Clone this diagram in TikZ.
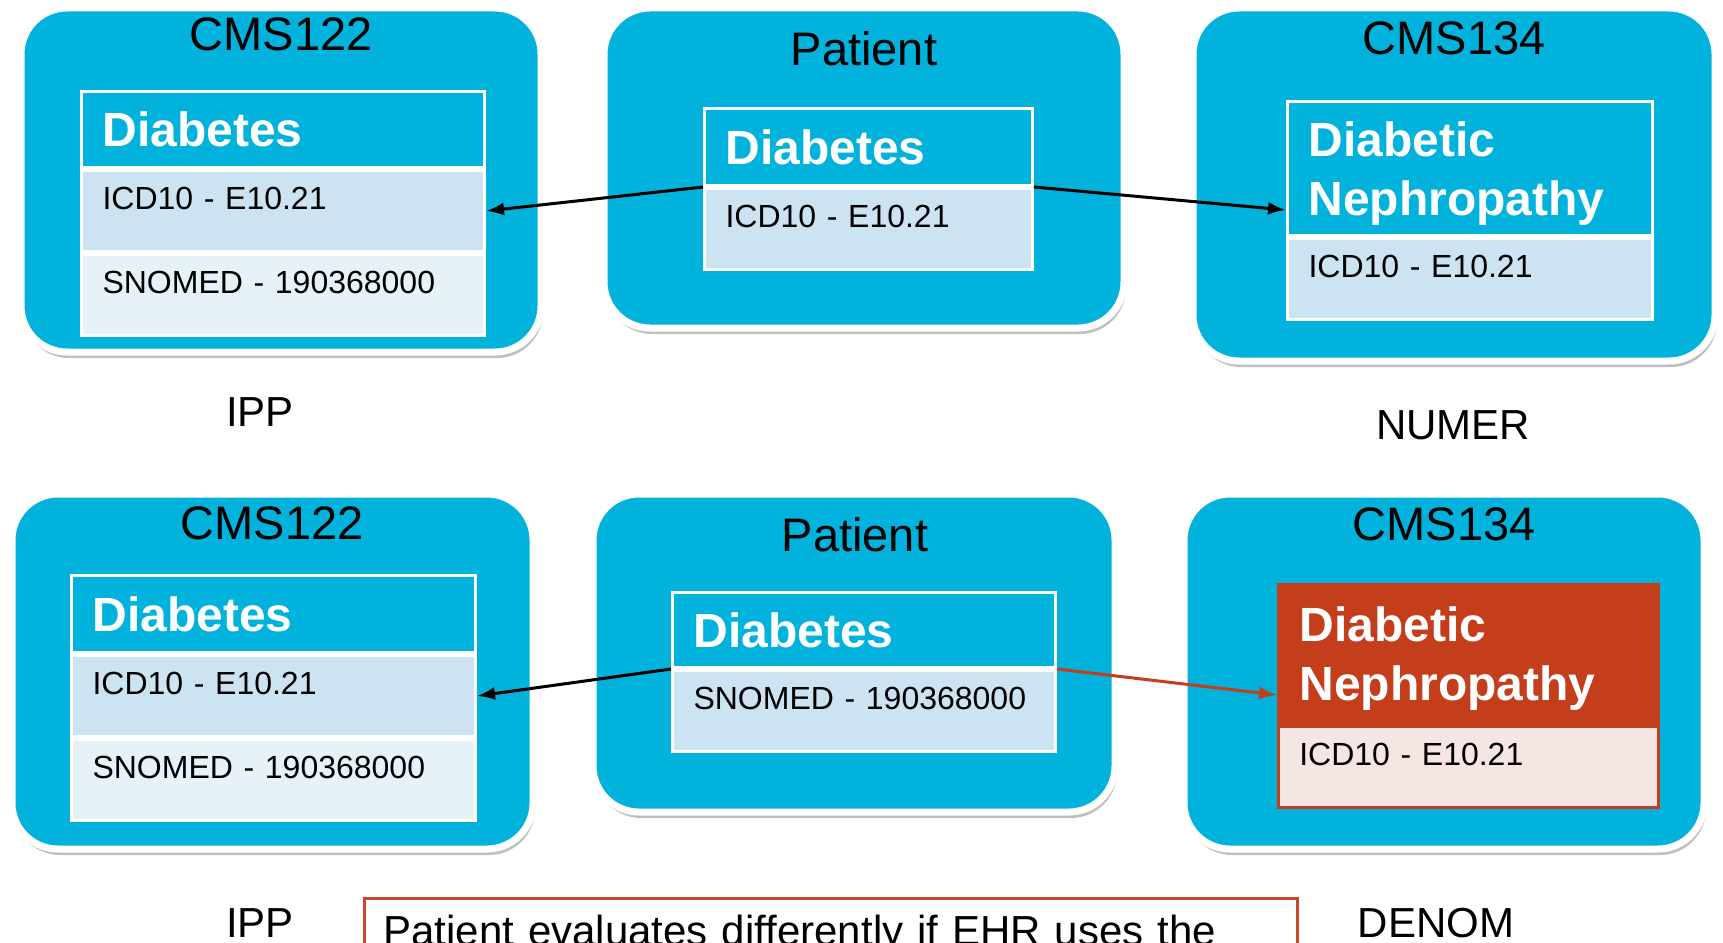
\documentclass[tikz,border=0pt]{standalone}
\usepackage{fontspec}
\setsansfont{Liberation Sans}
\usepackage{xcolor}
\usepackage{tikz}
\usetikzlibrary{arrows.meta,shadows}
\definecolor{cmsblue}{RGB}{0,178,220}
\definecolor{rowone}{RGB}{204,228,241}
\definecolor{rowtwo}{RGB}{230,242,248}
\definecolor{nephred}{RGB}{196,62,28}
\definecolor{nephrow}{RGB}{245,230,228}
\definecolor{callred}{RGB}{201,71,42}

\begin{document}
\begin{tikzpicture}[x=1pt,y=-1pt,font=\sffamily,
	panel/.style={fill=cmsblue,draw=white,line width=7pt,rounded corners=46pt,
		drop shadow={shadow xshift=2pt,shadow yshift=-6pt,opacity=0.25,fill=black}},
	ptitle/.style={inner sep=0pt,font=\sffamily\fontsize{47}{47}\selectfont},
	outlabel/.style={inner sep=0pt,font=\sffamily\fontsize{42}{42}\selectfont},
	condhead/.style={anchor=north west,fill=cmsblue,draw=white,line width=3pt,text=white,
		inner xsep=21pt,inner ysep=0pt,text width=#1,align=left,text depth=0pt,
		font=\sffamily\bfseries\fontsize{48}{59}\selectfont},
	icdrow/.style={anchor=north west,fill=rowone,draw=white,line width=3pt,
		inner xsep=21pt,inner ysep=0pt,text width=#1,align=left,
		text height=39pt,text depth=42pt,font=\sffamily\fontsize{32}{32}\selectfont},
	altrow/.style={icdrow=#1,fill=rowtwo},
	conn/.style={-{Latex[length=18pt,width=13pt]},line width=3pt}]
	\useasboundingbox (0,0) rectangle (1723,942);
	\clip (0,0) rectangle (1723,942);

	\draw [panel] (21,8) rectangle (541,352);
	\draw [panel] (604,8) rectangle (1124,328);
	\draw [panel] (1193,8) rectangle (1715,361);
	\draw [panel] (12,494) rectangle (533,849);
	\draw [panel] (593,494) rectangle (1115,812);
	\draw [panel] (1184,494) rectangle (1704,849);

	\node[ptitle] (t1) at (281,34) {CMS122};
	\node[condhead=361pt,minimum height=76pt] (c1head) at (80,90) {Diabetes};
	\node[icdrow=361pt] (c1icd) at (c1head.south west) {ICD10 - E10.21};
	\node[altrow=361pt] (c1sno) at (c1icd.south west) {SNOMED - 190368000};

	\node[ptitle] (t2) at (864,49) {Patient};
	\node[condhead=286pt,minimum height=77pt] (p1head) at (703,107) {Diabetes};
	\node[icdrow=286pt] (p1icd) at (p1head.south west) {ICD10 - E10.21};

	\node[ptitle] (t3) at (1454,38) {CMS134};
	\node[condhead=323pt,minimum height=134pt,text depth=59pt] (n1head) at (1286,100) {Diabetic\\Nephropathy};
	\node[icdrow=323pt] (n1icd) at (n1head.south west) {ICD10 - E10.21};

	\draw[conn] (p1head.south west) -- (c1icd.east);
	\draw[conn] (p1head.south east) -- ([yshift=27pt]n1head.south west);

	\node[outlabel] (ipp1) at (260,412) {IPP};
	\node[outlabel] (numer) at (1453,425) {NUMER};

	\node[ptitle] (t4) at (272,523) {CMS122};
	\node[condhead=362pt,minimum height=77pt] (c2head) at (70,574) {Diabetes};
	\node[icdrow=362pt] (c2icd) at (c2head.south west) {ICD10 - E10.21};
	\node[altrow=362pt] (c2sno) at (c2icd.south west) {SNOMED - 190368000};

	\node[ptitle] (t5) at (855,535) {Patient};
	\node[condhead=341pt,minimum height=75pt] (p2head) at (671,591) {Diabetes};
	\node[icdrow=341pt] (p2sno) at (p2head.south west) {SNOMED - 190368000};

	\node[ptitle] (t6) at (1444,524) {CMS134};
	\node[condhead=338pt,minimum height=139pt,text depth=59pt,fill=nephred,draw=nephred] (n2head) at (1277,583) {Diabetic\\Nephropathy};
	\node[icdrow=338pt,fill=nephrow,draw=nephred,line width=2.5pt] (n2icd) at (n2head.south west) {ICD10 - E10.21};

	\draw[conn] (p2head.south west) -- (c2icd.east);
	\draw[conn,color=nephred] (p2head.south east) -- ([yshift=30pt]n2head.south west);

	\node[outlabel] (ipp2) at (260,923) {IPP};
	\node[outlabel] (denom) at (1436,923) {DENOM};
	\node[anchor=north west,draw=callred,line width=3pt,fill=white,inner xsep=19pt,inner ysep=0pt,
		text width=895pt,align=left,text height=47pt,text depth=30pt,
		font=\sffamily\fontsize{42}{50}\selectfont] (note) at (363,897) {Patient evaluates differently if EHR uses the};
\end{tikzpicture}
\end{document}
